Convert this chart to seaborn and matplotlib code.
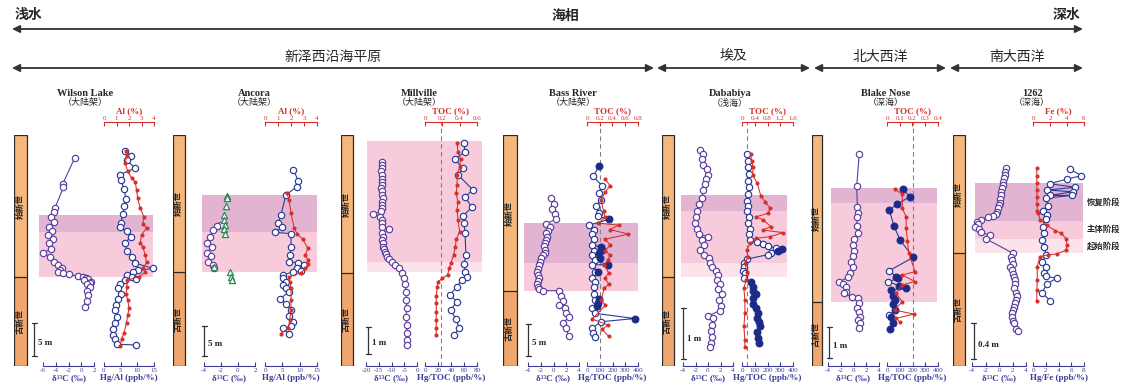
import numpy as np
import matplotlib.pyplot as plt
import seaborn as sns
from matplotlib.patches import Rectangle, FancyArrowPatch
from matplotlib.ticker import FuncFormatter

# ---------------- data (height in m relative to the P/E boundary) ----------------
# Wilson Lake
wl_d13c_h = [18.1, 14.1, 13.6, 10.5, 9.9, 9.1, 8.4, 7.6, 7.0, 6.4, 5.7, 5.1, 4.3, 3.6, 3.1, 2.3, 1.8, 1.3, 1.0, 0.8,
             0.6, 0.4, 0.15, -0.05, -0.2, -0.35, -0.5, -0.7, -0.9, -1.1, -1.5, -2.1, -2.7, -3.6, -4.5]
wl_d13c = [-1.0, -2.9, -2.8, -4.1, -4.3, -4.8, -4.3, -5.0, -4.6, -5.2, -4.5, -5.1, -4.7, -6.0, -4.9, -4.3, -3.6, -3.0, -3.3, -3.6,
           -2.8, -2.0, -0.5, 0.3, 0.8, 1.1, 0.5, 1.6, 1.3, 0.9, 1.4, 0.9, 1.1, 0.9, 0.6]
wl_hg_h = [19.1, 18.3, 17.7, 16.5, 15.5, 14.7, 13.3, 11.8, 10.8, 9.6, 8.2, 7.6, 6.9, 6.1, 5.1, 4.0, 3.1, 2.1, 1.3, 1.0,
           0.7, 0.3, 0.05, -0.3, -0.5, -1.1, -1.7, -2.5, -3.4, -4.2, -5.0, -6.0, -6.9, -7.9, -8.8, -9.4, -10.2, -10.3]
wl_hg = [6.3, 8.0, 6.8, 9.3, 4.8, 5.1, 6.0, 6.6, 6.0, 5.8, 5.0, 4.7, 6.8, 8.0, 6.3, 6.9, 8.3, 9.3, 14.8, 10.3,
         8.8, 6.8, 8.3, 9.6, 6.3, 4.8, 4.3, 5.0, 4.3, 3.6, 3.3, 4.0, 3.3, 2.8, 2.6, 3.3, 3.8, 9.6]
wl_al_h = [19.1, 18.3, 17.2, 16.0, 15.0, 14.4, 13.2, 11.9, 10.4, 9.1, 8.1, 7.4, 6.4, 5.1, 4.6, 3.3, 2.2, 1.3, 0.7, 0.05,
           -0.5, -1.5, -2.5, -3.5, -4.7, -5.8, -6.9, -8.5, -9.4, -10.5]
wl_al = [1.76, 1.8, 1.7, 1.9, 2.2, 2.5, 2.6, 2.7, 2.9, 3.2, 3.1, 3.4, 3.0, 2.9, 3.1, 3.3, 3.4, 3.1, 3.3, 2.8,
         1.8, 1.85, 1.76, 1.9, 2.0, 1.9, 1.8, 1.6, 1.4, 1.3]
wl_bands = [(9.4, 6.8, 'recovery'), (6.8, 0.0, 'main')]

# Ancora
anc_d13c_h = [7.9, 7.6, 7.0, 5.9, 4.9, 4.2, 3.2, 2.6, 1.7, 1.2, 0.6]
anc_d13c = [-2.0, -2.5, -2.9, -3.3, -3.6, -3.1, -3.6, -3.2, -3.5, -2.9, -2.8]
anc_tri_h = [12.7, 12.3, 11.0, 9.5, 8.7, 7.8, 7.1, 6.4, 0.8, 0.05, -0.8, -1.3]
anc_tri = [-1.3, -1.3, -1.4, -1.6, -1.6, -1.5, -1.6, -1.5, -2.8, -0.9, -0.8, -0.7]
anc_hg_h = [17.0, 15.2, 14.2, 12.8, 9.5, 8.1, 7.5, 6.6, 6.4, 4.2, 2.8, 1.7, 1.55, 1.2, 0.6, 0.2, 0.05, -0.5, -1.05, -1.6,
            -2.2, -2.7, -3.3, -4.5, -5.3, -6.3, -7.4, -8.3, -9.0, -9.4, -10.3]
anc_hg = [8.2, 9.6, 9.1, 6.0, 4.6, 3.8, 5.0, 2.9, 7.5, 7.5, 7.2, 6.9, 9.6, 11.3, 9.1, 10.5, 8.1, 5.2, 5.2, 6.1,
          5.2, 6.0, 6.9, 4.3, 6.0, 7.5, 6.9, 8.2, 7.5, 5.3, 6.9]
anc_al_h = [13.1, 12.0, 9.8, 7.3, 6.4, 5.45, 3.95, 2.8, 2.0, 1.3, 0.6, -0.1, -0.8, -1.6, -2.7, -4.7, -6.3, -8.0, -9.4, -10.3]
anc_al = [1.7, 1.85, 2.0, 2.25, 2.45, 2.9, 3.3, 3.1, 3.3, 3.3, 3.1, 2.8, 1.85, 1.9, 2.0, 2.0, 2.0, 1.9, 1.8, 1.2]
anc_bands = [(12.8, 6.7, 'recovery'), (6.7, 0.0, 'main')]

# Millville
mv_d13c_h = [4.12, 4.00, 3.88, 3.76, 3.63, 3.50, 3.38, 3.26, 3.14, 3.02, 2.89, 2.77, 2.64, 2.52, 2.40, 2.28, 2.18, 2.09,
             1.96, 1.84, 1.72, 1.62, 1.47, 1.35, 1.22, 1.10, 0.97, 0.88, 0.79, 0.70, 0.60, 0.51, 0.42, 0.30, 0.17,
             -0.01, -0.20, -0.41, -0.69, -1.00, -1.31, -1.62, -1.93, -2.23, -2.48, -2.67]
mv_d13c = [-13.9, -13.6, -13.8, -14.0, -13.7, -13.9, -13.6, -13.8, -14.0, -13.7, -13.8, -13.5, -13.9, -13.7, -13.8,
           -14.2, -17.1, -14.5, -13.8, -13.6, -13.9, -10.8, -13.6, -13.4, -13.6, -13.3, -13.2, -12.9, -12.5, -12.0,
           -11.6, -10.8, -9.9, -8.6, -6.9, -6.0, -5.1, -4.7, -4.3, -4.2, -4.1, -4.2, -4.1, -3.9, -3.9, -3.9]
mv_hg_h = [4.8, 4.49, 4.21, 3.88, 3.63, 3.07, 2.83, 2.43, 2.11, 1.84, 1.49, 0.67, 0.33, 0.05, -0.14, -0.26, -0.51,
           -0.81, -1.06, -1.37, -1.71, -2.05, -2.30]
mv_hg = [60, 61.5, 46, 58, 51, 74, 61.5, 72, 58, 60, 61.5, 63, 60, 61.5, 65, 56.5, 49, 38.5, 49, 39.5, 47.7, 53, 44.6]
mv_toc_h = [4.83, 4.49, 4.21, 3.91, 3.63, 3.26, 2.95, 2.64, 2.33, 1.96, 1.53, 1.25, 0.97, 0.67, 0.38, 0.17, -0.07,
            -0.20, -0.32, -0.53, -0.85, -1.12, -1.43, -1.74, -2.05, -2.30]
mv_toc = [0.37, 0.38, 0.41, 0.40, 0.37, 0.37, 0.36, 0.38, 0.37, 0.38, 0.40, 0.36, 0.35, 0.33, 0.30, 0.28, 0.26,
          0.20, 0.15, 0.14, 0.13, 0.13, 0.13, 0.13, 0.13, 0.13]
mv_bands = [(4.89, 0.41, 'main'), (0.41, 0.04, 'onset')]

# Bass River
br_d13c_h = [14.5, 13.6, 12.8, 12.0, 11.2, 10.5, 10.0, 9.3, 9.0, 8.5, 8.0, 7.5, 7.0, 6.4, 6.0, 5.6, 5.1, 4.6, 4.1, 3.5,
             3.0, 2.5, 2.0, 1.5, 1.1, 0.7, 0.3, 0.05, 0.05, -0.8, -1.5, -2.2, -2.7, -3.5, -4.1, -5.0, -5.8, -7.1]
br_d13c = [-0.4, 0.1, -0.2, 0.2, 0.35, -1.2, -0.6, -0.9, -1.1, -1.0, -1.2, -1.4, -1.5, -1.3, -1.4, -1.6, -1.9, -2.1,
           -2.3, -2.4, -2.6, -2.5, -2.3, -2.4, -2.6, -2.5, -2.3, -1.6, 0.9, 1.2, 1.5, 0.9, 1.8, 1.9, 2.4, 1.5, 1.9, 2.4]
br_hg_h = [19.5, 17.9, 16.4, 15.3, 14.2, 13.3, 12.2, 11.7, 11.2, 10.3, 9.6, 8.9, 8.1, 7.2, 6.9, 6.4, 6.3, 5.9, 5.6, 5.1,
           4.8, 4.1, 4.1, 3.0, 3.0, 2.1, 1.45, 0.7, -0.4, -1.3, -1.4, -1.9, -2.4, -2.7, -3.5, -4.3, -4.8, -5.8, -6.6, -7.2]
br_hg = [94, 49, 120, 94, 110, 68, 94, 86, 172, 16, 57, 37, 57, 42, 110, 120, 57, 94, 37, 100,
         63, 162, 42, 84, 63, 42, 63, 52, 57, 94, 63, 86, 78, 42, 63, 376, 110, 42, 49, 63]
br_hg_filled = [1, 0, 0, 0, 0, 0, 0, 0, 1, 0, 0, 0, 0, 0, 1, 1, 0, 1, 0, 1,
                0, 1, 0, 1, 0, 0, 0, 0, 0, 1, 0, 1, 1, 0, 0, 1, 0, 0, 0, 0]
br_toc_h = [17.5, 16.4, 15.4, 14.2, 12.5, 11.5, 10.6, 10.3, 9.6, 8.9, 8.1, 7.2, 6.3, 5.6, 4.8, 4.1, 2.8, 2.0, 1.1, 0.4,
            -1.4, -2.2, -4.4, -5.3, -6.0, -7.1]
br_toc = [0.29, 0.36, 0.28, 0.22, 0.26, 0.28, 0.18, 0.50, 0.36, 0.65, 0.29, 0.36, 0.29, 0.36, 0.33, 0.27, 0.34, 0.28,
          0.34, 0.27, 0.22, 0.29, 0.08, 0.33, 0.24, 0.34]
br_bands = [(10.6, 4.4, 'recovery'), (4.4, 0.0, 'main')]

# Dababiya
dab_d13c_h = [2.50, 2.41, 2.31, 2.20, 2.11, 2.0, 1.92, 1.82, 1.71, 1.54, 1.43, 1.30, 1.18, 1.06, 0.95, 0.84, 0.79, 0.73,
              0.63, 0.53, 0.43, 0.37, 0.28, 0.20, 0.12, 0.04, -0.06, -0.14, -0.24, -0.33, -0.45, -0.57, -0.66, -0.76,
              -0.81, -0.94, -1.05, -1.17, -1.30, -1.37]
dab_d13c = [-1.3, -0.85, -1.0, -0.75, -0.2, 0.05, -0.3, -0.5, -0.75, -1.0, -1.4, -1.7, -1.9, -2.1, -1.7, -1.4, 0.05,
            -1.0, -0.6, -1.3, -0.6, 0.2, 0.3, 0.6, 1.3, 1.65, 1.4, 1.9, 1.6, 2.2, 1.8, 2.0, 1.9, 0.05, 0.85, 0.6, 0.45,
            0.6, 0.45, 0.3]
dab_hg_h = [2.41, 2.28, 2.15, 2.02, 1.89, 1.76, 1.63, 1.50, 1.40, 1.30, 1.18, 1.06, 0.95, 0.84, 0.73, 0.69, 0.65, 0.61,
            0.57, 0.54, 0.51, 0.48, 0.44, 0.35, 0.28, 0.20, 0.12, 0.07, -0.01, -0.09, -0.19, -0.27, -0.33, -0.42, -0.52,
            -0.61, -0.71, -0.80, -0.88, -0.97, -1.07, -1.20, -1.30]
dab_hg = [42, 50, 45, 55, 48, 52, 45, 42, 50, 38, 55, 45, 60, 52, 63, 115, 167, 206, 267, 311, 285, 225, 206, 37, 16,
          16, 10, 24, 16, 68, 86, 89, 110, 86, 89, 110, 128, 118, 135, 141, 120, 128, 133]
dab_hg_filled = [0] * 19 + [1, 1] + [0] * 8 + [1] * 14
dab_toc_h = [2.41, 2.28, 2.15, 2.0, 1.84, 1.59, 1.48, 1.35, 1.25, 1.18, 1.12, 0.99, 0.92, 0.87, 0.79, 0.76, 0.66, 0.53,
             0.40, 0.28, 0.10, -0.06, -0.22, -0.45, -0.71, -0.97, -1.24, -1.37]
dab_toc = [0.27, 0.30, 0.35, 0.33, 0.48, 0.59, 0.72, 0.88, 0.82, 0.44, 0.67, 0.90, 0.67, 1.29, 0.88, 0.45, 0.25, 0.15,
           0.18, 0.09, 0.15, 0.13, 0.06, 0.09, 0.09, 0.06, 0.09, 0.09]
dab_bands = [(1.61, 1.29, 'recovery'), (1.29, 0.27, 'main'), (0.27, 0.0, 'onset')]

# Blake Nose
bn_d13c_h = [4.77, 3.74, 3.07, 2.88, 2.73, 2.45, 2.22, 2.02, 1.84, 1.65, 1.48, 1.30, 1.14, 0.95, 0.80, 0.66, 0.58, 0.47,
             0.33, 0.28, 0.17, 0.12, -0.04, -0.20, -0.31, -0.47, -0.58, -0.69, -0.85]
bn_d13c = [0.9, 0.5, 0.6, 0.7, 0.6, 0.5, 0.7, 0.1, -0.1, 0.1, -0.1, -0.45, -0.1, -0.5, -0.8, -2.2, -1.6, -1.2, -1.2,
           -1.5, -0.3, 0.75, 0.9, 0.6, 0.9, 1.0, 0.75, 1.0, 0.9]
bn_hg_h = [3.64, 3.40, 3.16, 2.97, 2.45, 2.00, 1.44, 1.01, 0.82, 0.76, 0.66, 0.52, 0.44, 0.39, 0.19, 0.06, -0.06, -0.26,
           -0.42, -0.49, -0.69, -0.88]
bn_hg = [123, 180, 81, 18, 55, 102, 206, 18, 71, 89, 10, 97, 149, 29, 45, 63, 45, 63, 18, 29, 50, 24]
bn_hg_filled = [1, 1, 1, 1, 1, 1, 1, 0, 1, 1, 0, 1, 1, 1, 1, 1, 1, 1, 0, 1, 1, 1]
bn_toc_h = [3.64, 3.48, 3.02, 2.75, 2.38, 1.98, 1.59, 0.98, 0.87, 0.66, 0.55, 0.28, 0.01, -0.26, -0.39, -0.53, -0.64]
bn_toc = [0.06, 0.12, 0.12, 0.15, 0.15, 0.16, 0.17, 0.22, 0.12, 0.22, 0.12, 0.07, 0.12, 0.06, 0.21, 0.07, 0.10]
bn_bands = [(3.68, 3.19, 'recovery'), (3.19, 0.0, 'main')]

# ODP 1262
s1262_d13c_h = [0.94, 0.90, 0.87, 0.83, 0.79, 0.76, 0.72, 0.68, 0.64, 0.60, 0.56, 0.53, 0.50, 0.46, 0.43, 0.41, 0.40,
                0.37, 0.34, 0.32, 0.29, 0.27, 0.23, 0.20, 0.16, 0.0, -0.04, -0.08, -0.12, -0.15, -0.19, -0.23, -0.27,
                -0.30, -0.35, -0.39, -0.44, -0.48, -0.52, -0.56, -0.60, -0.63, -0.67, -0.71, -0.75, -0.78, -0.84, -0.87]
s1262_d13c = [1.04, 0.95, 0.9, 0.8, 0.64, 0.55, 0.4, 0.3, 0.25, 0.2, 0.1, 0.05, -0.1, -0.25, -0.5, -0.84, -1.6, -2.6,
              -3.3, -3.1, -3.5, -2.9, -2.7, -1.4, -2.0, 2.0, 1.8, 1.9, 2.1, 1.7, 1.9, 2.0, 2.2, 2.4, 2.3, 2.2, 2.5, 2.6,
              2.5, 2.4, 2.2, 2.0, 1.9, 1.9, 2.0, 2.2, 2.5, 2.8]
s1262_hg_h = [0.93, 0.86, 0.82, 0.77, 0.73, 0.70, 0.68, 0.64, 0.64, 0.61, 0.52, 0.47, 0.42, 0.38, 0.29, 0.22, 0.14,
              0.07, -0.02, -0.10, -0.15, -0.22, -0.26, -0.28, -0.34, -0.44, -0.53]
s1262_hg = [5.8, 7.6, 5.3, 2.6, 6.6, 2.25, 6.3, 2.6, 6.1, 2.0, 2.4, 1.6, 2.25, 2.0, 1.6, 1.7, 1.4, 1.7, 2.1, 1.4,
            2.0, 1.7, 2.1, 3.7, 2.25, 1.4, 2.7]
s1262_fe_h = [0.94, 0.86, 0.78, 0.70, 0.62, 0.54, 0.47, 0.44, 0.37, 0.31, 0.25, 0.22, 0.16, 0.09, 0.03, -0.01, -0.02,
              -0.04, -0.15, -0.30, -0.41, -0.53]
s1262_fe = [0.43, 0.45, 0.45, 0.47, 0.45, 0.48, 0.5, 0.63, 0.82, 1.6, 2.6, 3.3, 3.9, 4.0, 3.9, 2.8, 1.8, 0.8, 0.5, 0.5,
            0.45, 0.45]
s1262_bands = [(0.78, 0.36, 'recovery'), (0.36, 0.16, 'main'), (0.16, 0.0, 'onset')]
stage_names = {'recovery': '恢复阶段', 'main': '主体阶段', 'onset': '起始阶段'}

# ---------------- style ----------------
sns.set_style('white')
plt.rcParams['font.family'] = ['Liberation Serif', 'Noto Sans CJK SC']

W, H = 1121, 392
Y_TOP, Y_BOT = 135, 366
TOP_SPINE = (Y_BOT - 122) / (Y_BOT - Y_TOP)
PURPLE = '#5c3f9d'
BLUE = '#2b3a95'
NAVY = '#1c2a88'
RED = '#d62f2a'
GREEN = '#2e8b57'
AXC = '#3c3c98'
STAGE_COL = {'recovery': '#e3b4d2', 'main': '#f7cbdc', 'onset': '#fce3eb'}
fmt = FuncFormatter(lambda v, _: f'{v:g}')

panels = [
    dict(title='Wilson Lake', sub='（大陆架）', tx=85, col=(14, 27), yb=277, s=6.6, band_x=(39, 153),
         d13=(wl_d13c, wl_d13c_h), d13_x=(43, 94), d13_lim=(-6, 2), d13_ticks=[-6, -4, -2, 0, 2],
         hg=(wl_hg, wl_hg_h, None), hg_x=(104, 154), hg_lim=(0, 15), hg_ticks=[0, 5, 10, 15], hg_label='Hg/Al (ppb/%)',
         top=(wl_al, wl_al_h), top_lim=(0, 4), top_ticks=[0, 1, 2, 3, 4], top_label='Al (%)',
         bands=wl_bands, bar=(34, 356, 5, '5 m'), dash=None),
    dict(title='Ancora', sub='（大陆架）', tx=254, col=(173, 185), yb=272, s=6.0, band_x=(202, 317),
         d13=(anc_d13c, anc_d13c_h), d13_x=(204, 255), d13_lim=(-4, 2), d13_ticks=[-4, -2, 0, 2],
         hg=(anc_hg, anc_hg_h, None), hg_x=(265, 317), hg_lim=(0, 15), hg_ticks=[0, 5, 10, 15], hg_label='Hg/Al (ppb/%)',
         top=(anc_al, anc_al_h), top_lim=(0, 4), top_ticks=[0, 1, 2, 3, 4], top_label='Al (%)',
         bands=anc_bands, bar=(204, 356, 5, '5 m'), dash=None),
    dict(title='Millville', sub='（大陆架）', tx=419, col=(341, 353), yb=273, s=27.0, band_x=(367, 482),
         d13=(mv_d13c, mv_d13c_h), d13_x=(366, 417), d13_lim=(-20, 0), d13_ticks=[-20, -15, -10, -5, 0],
         hg=(mv_hg, mv_hg_h, None), hg_x=(425, 477), hg_lim=(0, 80), hg_ticks=[0, 20, 40, 60, 80], hg_label='Hg/TOC (ppb/%)',
         top=(mv_toc, mv_toc_h), top_lim=(0, 0.6), top_ticks=[0, 0.2, 0.4, 0.6], top_label='TOC (%)',
         bands=mv_bands, bar=(368, 354, 1, '1 m'), dash=25),
    dict(title='Bass River', sub='（大陆架）', tx=573, col=(503, 517), yb=291, s=6.4, band_x=(524, 638),
         d13=(br_d13c, br_d13c_h), d13_x=(528, 579), d13_lim=(-4, 4), d13_ticks=[-4, -2, 0, 2, 4],
         hg=(br_hg, br_hg_h, br_hg_filled), hg_x=(587, 638), hg_lim=(0, 400), hg_ticks=[0, 100, 200, 300, 400],
         hg_label='Hg/TOC (ppb/%)',
         top=(br_toc, br_toc_h), top_lim=(0, 0.8), top_ticks=[0, 0.2, 0.4, 0.6, 0.8], top_label='TOC (%)',
         bands=br_bands, bar=(528, 356, 5, '5 m'), dash=100),
    dict(title='Dababiya', sub='（浅海）', tx=730, col=(662, 674), yb=277, s=51.0, band_x=(681, 787),
         d13=(dab_d13c, dab_d13c_h), d13_x=(683, 733), d13_lim=(-4, 4), d13_ticks=[-4, -2, 0, 2, 4],
         hg=(dab_hg, dab_hg_h, dab_hg_filled), hg_x=(742, 793), hg_lim=(0, 400), hg_ticks=[0, 100, 200, 300, 400],
         hg_label='Hg/TOC (ppb/%)',
         top=(dab_toc, dab_toc_h), top_lim=(0, 1.6), top_ticks=[0, 0.4, 0.8, 1.2, 1.6], top_label='TOC (%)',
         bands=dab_bands, bar=(683, 359, 1, '1 m'), dash=40),
    dict(title='Blake Nose', sub='（深海）', tx=886, col=(812, 822), yb=302, s=31.0, band_x=(831, 937),
         d13=(bn_d13c, bn_d13c_h), d13_x=(828, 879), d13_lim=(-4, 4), d13_ticks=[-4, -2, 0, 2, 4],
         hg=(bn_hg, bn_hg_h, bn_hg_filled), hg_x=(887, 938), hg_lim=(0, 400), hg_ticks=[0, 100, 200, 300, 400],
         hg_label='Hg/TOC (ppb/%)',
         top=(bn_toc, bn_toc_h), top_lim=(0, 0.4), top_ticks=[0, 0.1, 0.2, 0.3, 0.4], top_label='TOC (%)',
         bands=bn_bands, bar=(829, 358, 1, '1 m'), dash=200),
    dict(title='1262', sub='（深海）', tx=1032, col=(953, 965), yb=253, s=90.0, band_x=(975, 1083),
         d13=(s1262_d13c, s1262_d13c_h), d13_x=(972, 1026), d13_lim=(-4, 4), d13_ticks=[-4, -2, 0, 2, 4],
         hg=(s1262_hg, s1262_hg_h, None), hg_x=(1033, 1084), hg_lim=(0, 8), hg_ticks=[0, 2, 4, 6, 8],
         hg_label='Hg/Fe (ppb/%)',
         top=(s1262_fe, s1262_fe_h), top_lim=(0, 6), top_ticks=[0, 2, 4, 6], top_label='Fe (%)',
         bands=s1262_bands, bar=(974, 359, 0.4, '0.4 m'), dash=None),
]

fig = plt.figure(figsize=(W / 100, H / 100), dpi=100)


def rect(x0, x1):
    return [x0 / W, 1 - Y_BOT / H, (x1 - x0) / W, (Y_BOT - Y_TOP) / H]


def style_bottom(ax, lim, ticks, label):
    ax.set_xlim(*lim)
    ax.set_xticks(ticks)
    ax.xaxis.set_major_formatter(fmt)
    for side in ('left', 'right', 'top'):
        ax.spines[side].set_visible(False)
    ax.spines['bottom'].set_color(AXC)
    ax.spines['bottom'].set_linewidth(0.8)
    ax.tick_params(axis='x', bottom=True, direction='in', length=3, width=0.8, color=AXC,
                   labelcolor=AXC, labelsize=5, pad=1.5)
    ax.tick_params(axis='y', left=False, labelleft=False)
    ax.set_xlabel(label, fontsize=6.5, fontweight='bold', color=AXC, labelpad=1)
    ax.set_ylabel('')
    ax.patch.set_visible(False)


def open_points(ax, x, y, col, size=21):
    sns.scatterplot(x=x, y=y, ax=ax, s=size, color='white', edgecolor=col, linewidth=0.85,
                    zorder=3, clip_on=False, legend=False)


def draw_panel(p):
    yb, s = p['yb'], p['s']
    ytop, ybot = (yb - Y_TOP) / s, (yb - Y_BOT) / s
    c0, c1 = p['col']
    bx0, bx1 = p['band_x']

    # background: column, stage bands, scale bar
    bg = fig.add_axes(rect(c0, bx1))
    bg.set_xlim(c0, bx1)
    bg.set_ylim(ybot, ytop)
    bg.axis('off')
    bg.fill_betweenx([0, ytop], c0, c1, color='#f6b77d', lw=0)
    bg.fill_betweenx([ybot, 0], c0, c1, color='#f1a66d', lw=0)
    bg.add_patch(Rectangle((c0, ybot), c1 - c0, ytop - ybot, fill=False, ec='#2a2a2a', lw=0.9))
    bg.plot([c0, c1], [0, 0], color='#2a2a2a', lw=0.9)
    bg.text((c0 + c1) / 2, ytop / 2, '始新世', rotation=90, ha='center', va='center',
            fontsize=6, fontweight='bold', color='#222')
    bg.text((c0 + c1) / 2, ybot / 2, '古新世', rotation=90, ha='center', va='center',
            fontsize=6, fontweight='bold', color='#222')
    for top, bot, stage in p['bands']:
        bg.fill_betweenx([bot, top], bx0, bx1, color=STAGE_COL[stage], lw=0)
    sx, sy, L, lab = p['bar']
    y0 = (yb - sy) / s
    bg.plot([sx, sx], [y0, y0 + L], color='#333', lw=0.9)
    for yy in (y0, y0 + L):
        bg.plot([sx - 2.5, sx + 2.5], [yy, yy], color='#333', lw=0.9)
    bg.text(sx + 4, y0 + 0.4 * L, lab, fontsize=6.5, fontweight='bold', va='center', color='#222')

    # carbon isotope
    ax1 = fig.add_axes(rect(*p['d13_x']))
    v, h = p['d13']
    sns.lineplot(x=v, y=h, ax=ax1, sort=False, estimator=None, color=PURPLE, linewidth=0.8)
    open_points(ax1, v, h, PURPLE)
    if p['title'] == 'Ancora':
        sns.scatterplot(x=anc_tri, y=anc_tri_h, ax=ax1, s=20, marker='^', color='white',
                        edgecolor=GREEN, linewidth=0.9, zorder=4, legend=False)
    style_bottom(ax1, p['d13_lim'], p['d13_ticks'], 'δ¹³C (‰)')
    ax1.set_ylim(ybot, ytop)

    # mercury ratio
    ax2 = fig.add_axes(rect(*p['hg_x']))
    v, h, filled = p['hg']
    sns.lineplot(x=v, y=h, ax=ax2, sort=False, estimator=None, color=BLUE, linewidth=0.8)
    v, h = np.array(v), np.array(h)
    mask = np.zeros(len(v), bool) if filled is None else np.array(filled, bool)
    open_points(ax2, v[~mask], h[~mask], BLUE)
    if mask.any():
        sns.scatterplot(x=v[mask], y=h[mask], ax=ax2, s=26, color=NAVY, edgecolor=NAVY,
                        linewidth=0.6, zorder=3, clip_on=False, legend=False)
    style_bottom(ax2, p['hg_lim'], p['hg_ticks'], p['hg_label'])
    ax2.set_ylim(ybot, ytop)
    if p['dash'] is not None:
        ax2.axvline(p['dash'], ymin=0, ymax=TOP_SPINE, color='#808080', lw=0.8,
                    ls=(0, (4, 3)), clip_on=False, zorder=1)

    # normaliser (red, top axis)
    ax3 = ax2.twiny()
    v, h = p['top']
    sns.lineplot(x=v, y=h, ax=ax3, sort=False, estimator=None, color=RED, linewidth=0.75,
                 marker='o', markersize=2.2, markeredgecolor=RED, markerfacecolor=RED)
    ax3.set_xlim(*p['top_lim'])
    ax3.set_ylim(ybot, ytop)
    ax3.set_xticks(p['top_ticks'])
    ax3.xaxis.set_major_formatter(fmt)
    for side in ('left', 'right', 'bottom'):
        ax3.spines[side].set_visible(False)
    ax3.spines['top'].set_position(('axes', TOP_SPINE))
    ax3.spines['top'].set_color(RED)
    ax3.spines['top'].set_linewidth(0.8)
    ax3.tick_params(axis='x', top=True, direction='in', length=3, width=0.8, color=RED,
                    labelcolor=RED, labelsize=5, pad=1)
    ax3.set_xlabel(p['top_label'], fontsize=6.5, fontweight='bold', color=RED, labelpad=1.5)
    ax3.set_ylabel('')

    fig.text(p['tx'] / W, 1 - 93 / H, p['title'], ha='center', va='center', fontsize=7.5, fontweight='bold')
    fig.text(p['tx'] / W, 1 - 103 / H, p['sub'], ha='center', va='center', fontsize=6.5)


for p in panels:
    draw_panel(p)

# stage labels at the right of the 1262 column
for (top, bot, stage), ypx in zip(s1262_bands, [202, 229, 246]):
    fig.text(1087 / W, 1 - ypx / H, stage_names[stage], ha='left', va='center', fontsize=6, fontweight='bold')


# ---------------- header arrows ----------------
def arrow(x0, x1, y):
    fig.add_artist(FancyArrowPatch((x0 / W, 1 - y / H), (x1 / W, 1 - y / H), transform=fig.transFigure,
                                   arrowstyle='<|-|>,head_length=0.45,head_width=0.22', mutation_scale=10,
                                   lw=1.3, color='#333333', shrinkA=0, shrinkB=0))


arrow(12, 1083, 29)
fig.text(15 / W, 1 - 16 / H, '浅水', ha='left', va='center', fontsize=10, fontweight='bold')
fig.text(565 / W, 1 - 16 / H, '海相', ha='center', va='center', fontsize=10, fontweight='bold')
fig.text(1080 / W, 1 - 16 / H, '深水', ha='right', va='center', fontsize=10, fontweight='bold')

regions = [('新泽西沿海平原', 12, 654), ('埃及', 657, 810), ('北大西洋', 814, 946), ('南大西洋', 950, 1083)]
for name, x0, x1 in regions:
    arrow(x0, x1, 68)
    fig.text((x0 + x1) / 2 / W, 1 - 57 / H, name, ha='center', va='center', fontsize=10)

fig.savefig('out.png', dpi=100)
